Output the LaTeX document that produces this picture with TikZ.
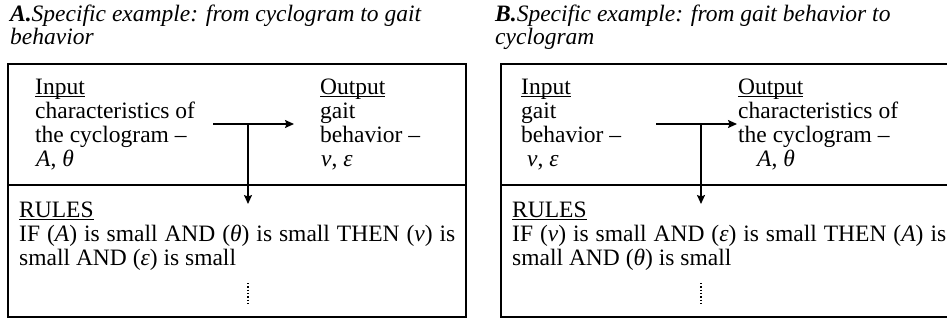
\documentclass[tikz,border=0pt]{standalone}
\usepackage{fontspec}
\setmainfont{Liberation Serif}
\usetikzlibrary{arrows.meta}
\newcommand\lineunder[1]{\setbox0\hbox{#1}\rlap{\rule[-2.6pt]{\wd0}{1.1pt}}\box0}
\begin{document}
\begin{tikzpicture}[x=1pt,y=-1pt,
  txt/.style={anchor=base west, inner sep=0pt, font=\fontsize{23.5}{24}\selectfont},
  frame/.style={draw=black, line width=1.2pt},
  link/.style={draw=black, line width=1.5pt},
  flow/.style={link, -{Stealth[length=9pt,width=8pt,inset=1.5pt]}},
  more/.style={draw=black, line width=1.8pt, dash pattern=on 1.4pt off 1.9pt}]
\useasboundingbox (0,0) rectangle (947,322);
% titles
\node[txt] (tA1) at (10,21) {\textbf{\textit{A.}}\textit{Specific example: from cyclogram to gait}};
\node[txt] (tA2) at (10,44) {\textit{behavior}};
\node[txt] (tB1) at (495,21) {\textbf{\textit{B.}}\textit{Specific example: from gait behavior to}};
\node[txt] (tB2) at (495,44) {\textit{cyclogram}};
% panel A frame
\draw[frame] (8,64) rectangle (466,317);
\draw[frame] (8,185) -- (466,185);
% panel B frame (runs off the right edge)
\draw[frame] (947,64) -- (501,64) -- (501,317) -- (947,317);
\draw[frame] (501,185) -- (947,185);
% panel A texts
\node[txt] (aI1) at (35,94) {\lineunder{Input}};
\node[txt] (aI2) at (35,118) {characteristics of};
\node[txt] (aI3) at (35,142) {the cyclogram –};
\node[txt] (aI4) at (36,166) {\textit{A}, \textit{θ}};
\node[txt] (aO1) at (320,94) {\lineunder{Output}};
\node[txt] (aO2) at (320,118) {gait};
\node[txt] (aO3) at (320,142) {behavior –};
\node[txt] (aO4) at (321,166) {\textit{v}, \textit{ε}};
\node[txt] (aR1) at (19,217) {\lineunder{RULES}};
\node[txt] (aR2) at (19,241) {\makebox[436pt][s]{IF (\textit{A}) is small AND (\textit{θ}) is small THEN (\textit{v}) is}};
\node[txt] (aR3) at (19,265) {small AND (\textit{ε}) is small};
% panel B texts
\node[txt] (bI1) at (521,94) {\lineunder{Input}};
\node[txt] (bI2) at (521,118) {gait};
\node[txt] (bI3) at (521,142) {behavior –};
\node[txt] (bI4) at (527,166) {\textit{v}, \textit{ε}};
\node[txt] (bO1) at (738,94) {\lineunder{Output}};
\node[txt] (bO2) at (738,118) {characteristics of};
\node[txt] (bO3) at (738,142) {the cyclogram –};
\node[txt] (bO4) at (757,166) {\textit{A}, \textit{θ}};
\node[txt] (bR1) at (512,217) {\lineunder{RULES}};
\node[txt] (bR2) at (512,241) {\makebox[434pt][s]{IF (\textit{v}) is small AND (\textit{ε}) is small THEN (\textit{A}) is}};
\node[txt] (bR3) at (512,265) {small AND (\textit{θ}) is small};
% connectors A
\coordinate (aS) at (213,124);
\coordinate (aE) at (294,124);
\coordinate (aJ) at (248,124);
\coordinate (aD) at (248,204);
\coordinate (aM1) at (248,283);
\coordinate (aM2) at (248,305);
\draw[flow] (aS) -- (aE);
\draw[flow] (aJ) -- (aD);
\draw[more] (aM1) -- (aM2);
% connectors B
\coordinate (bS) at (656,124);
\coordinate (bE) at (737,124);
\coordinate (bJ) at (701,124);
\coordinate (bD) at (701,204);
\coordinate (bM1) at (701,283);
\coordinate (bM2) at (701,305);
\draw[flow] (bS) -- (bE);
\draw[flow] (bJ) -- (bD);
\draw[more] (bM1) -- (bM2);
\end{tikzpicture}
\end{document}
